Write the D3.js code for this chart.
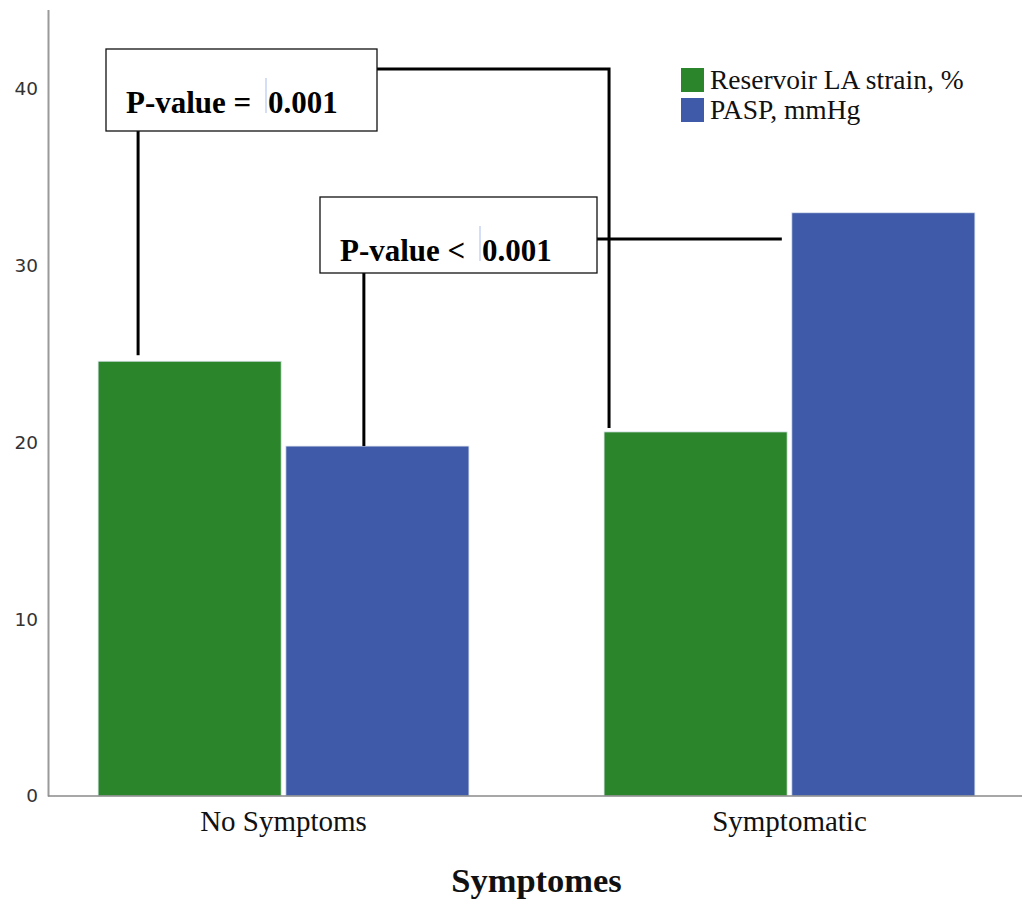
<!DOCTYPE html>
<html>
<head>
<meta charset="utf-8">
<script src="https://cdn.jsdelivr.net/npm/d3@7"></script>
<style>
  html, body { margin: 0; padding: 0; background: #fff; }
  svg { display: block; }
</style>
</head>
<body>
<svg id="chart" width="1027" height="901"></svg>
<script>
// Group categories and the two measured series
const categories = ["No Symptoms", "Symptomatic"];
const seriesNames = ["Reservoir LA strain, %", "PASP, mmHg"];
const strainValues = [24.6, 20.6];
const paspValues = [19.8, 33.0];
const yTicks = [0, 10, 20, 30, 40];
const xAxisTitle = "Symptomes";
const pLabels = ["P-value = ", "P-value < "];
const pValues = ["0.001", "0.001"];

const colors = { "Reservoir LA strain, %": "#2b862b", "PASP, mmHg": "#3e5aa8" };

const rows = categories.map((c, i) => ({
  category: c,
  values: [
    { series: seriesNames[0], value: strainValues[i] },
    { series: seriesNames[1], value: paspValues[i] }
  ]
}));

const svg = d3.select("#chart");
const left = 48, bottom = 796;

const y = d3.scaleLinear().domain([0, 44.5]).range([bottom, 9.5]);
const x0 = d3.scaleBand().domain(categories).range([left, 1025])
  .paddingInner(0.267).paddingOuter(0.099);
const x1 = d3.scaleBand().domain(seriesNames).range([0, x0.bandwidth()]).paddingInner(0.025);

// Y axis: line plus labels, no tick marks
const yAxis = d3.axisLeft(y).tickValues(yTicks).tickSize(0).tickPadding(10);
const gy = svg.append("g").attr("transform", `translate(${left},0)`).call(yAxis);
gy.select(".domain").attr("stroke", "#9a9a9a").attr("stroke-width", 2);
gy.selectAll("text")
  .attr("font-family", "DejaVu Sans, sans-serif")
  .attr("font-size", 18.5)
  .attr("fill", "#333");

// Bars
const groups = svg.append("g").selectAll("g").data(rows).join("g")
  .attr("transform", d => `translate(${x0(d.category)},0)`);
groups.selectAll("rect").data(d => d.values).join("rect")
  .attr("x", d => x1(d.series))
  .attr("y", d => y(d.value))
  .attr("width", x1.bandwidth())
  .attr("height", d => y(0) - y(d.value))
  .attr("fill", d => colors[d.series])
  .attr("stroke", "#dfe6f0")
  .attr("stroke-width", 0.8);

// X axis baseline
svg.append("line")
  .attr("x1", left).attr("x2", 1022)
  .attr("y1", bottom).attr("y2", bottom)
  .attr("stroke", "#8a8a8a").attr("stroke-width", 1.5);

// Category labels
svg.append("g").selectAll("text").data(categories).join("text")
  .attr("x", d => x0(d) + x0.bandwidth() / 2)
  .attr("y", 831)
  .attr("text-anchor", "middle")
  .attr("font-family", "Liberation Serif, Times New Roman, serif")
  .attr("font-size", 29)
  .attr("fill", "#111")
  .text(d => d);

// Axis title
svg.append("text")
  .attr("x", (x0(categories[0]) + x0(categories[1]) + x0.bandwidth()) / 2)
  .attr("y", 892)
  .attr("text-anchor", "middle")
  .attr("font-family", "Liberation Serif, Times New Roman, serif")
  .attr("font-weight", "bold")
  .attr("font-size", 34.5)
  .attr("fill", "#111")
  .text(xAxisTitle);

// Legend
const legend = svg.append("g").attr("transform", "translate(681,68)");
seriesNames.forEach((s, i) => {
  const g = legend.append("g").attr("transform", `translate(0,${i * 30})`);
  g.append("rect").attr("width", 23).attr("height", 24).attr("fill", colors[s]);
  g.append("text")
    .attr("x", 29).attr("y", 21)
    .attr("font-family", "Liberation Serif, Times New Roman, serif")
    .attr("font-size", 27.5)
    .attr("fill", "#111")
    .text(s);
});

// Significance annotations: bar anchors come from the scales
const barX = (cat, ser) => x0(cat) + x1(ser);
const barTop = (cat, ser) => {
  const i = categories.indexOf(cat);
  return y(ser === seriesNames[0] ? strainValues[i] : paspValues[i]);
};

const ann = svg.append("g");
const lineStyle = sel => sel.attr("stroke", "#000").attr("stroke-width", 3).attr("fill", "none");

// Strain comparison bracket
const b1 = { x: 106, y: 49, w: 271, h: 82 };
const l1x = barX(categories[0], seriesNames[0]) + 40;
const r1x = barX(categories[1], seriesNames[0]) + 5;
ann.append("path")
  .attr("d", `M${l1x},${b1.y + b1.h} V${barTop(categories[0], seriesNames[0]) - 6}`)
  .call(lineStyle);
ann.append("path")
  .attr("d", `M${b1.x + b1.w},69 H${r1x} V${barTop(categories[1], seriesNames[0]) - 4}`)
  .call(lineStyle);

// PASP comparison bracket
const b2 = { x: 320, y: 197, w: 277, h: 76 };
const l2x = barX(categories[0], seriesNames[1]) + 78;
const r2x = barX(categories[1], seriesNames[1]) - 10;
ann.append("path")
  .attr("d", `M${l2x},${b2.y + b2.h} V${barTop(categories[0], seriesNames[1])}`)
  .call(lineStyle);
ann.append("path")
  .attr("d", `M${b2.x + b2.w},239 H${r2x}`)
  .call(lineStyle);

// Label boxes
const boxes = [
  { b: b1, tx: 126, ty: 113, vx: 268, cx: 266 },
  { b: b2, tx: 340, ty: 261, vx: 482, cx: 480 }
];
boxes.forEach((o, i) => {
  ann.append("rect")
    .attr("x", o.b.x).attr("y", o.b.y).attr("width", o.b.w).attr("height", o.b.h)
    .attr("fill", "#fff").attr("stroke", "#111").attr("stroke-width", 1.3);
  ann.append("line")
    .attr("x1", o.cx).attr("x2", o.cx).attr("y1", o.ty - 35).attr("y2", o.ty)
    .attr("stroke", "#a9bdf0").attr("stroke-width", 1);
  const t = ann.append("text")
    .attr("y", o.ty)
    .attr("font-family", "Liberation Serif, Times New Roman, serif")
    .attr("font-weight", "bold")
    .attr("font-size", 31)
    .attr("fill", "#000");
  t.append("tspan").attr("x", o.tx).text(pLabels[i]);
  t.append("tspan").attr("x", o.vx).text(pValues[i]);
});
</script>
</body>
</html>
